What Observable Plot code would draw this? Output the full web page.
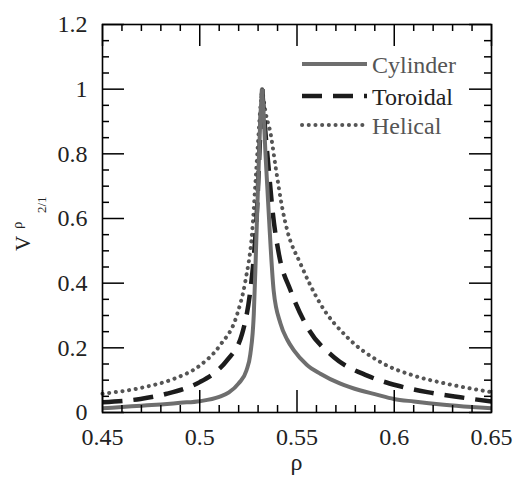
<!DOCTYPE html>
<html>
<head>
<meta charset="utf-8">
<script src="https://cdn.jsdelivr.net/npm/d3@7"></script>
<script src="https://cdn.jsdelivr.net/npm/@observablehq/plot@0.6"></script>
<style>
  html, body { margin: 0; padding: 0; background: #fff; }
  svg text { font-family: "Liberation Serif", "Times New Roman", Times, "Nimbus Roman", "Nimbus Roman No9 L", Tinos, "Noto Serif", "DejaVu Serif", FreeSerif, serif; }
</style>
</head>
<body>
<div id="chart"></div>
<script>
// ---- data ----
const seriesNames = ["Cylinder", "Toroidal", "Helical"];

const rhoCylinder = [0.45, 0.46, 0.47, 0.48, 0.49, 0.50, 0.51, 0.515, 0.52, 0.524, 0.526, 0.5278, 0.5287, 0.5295, 0.5304, 0.5314, 0.5321,
                     0.5328, 0.5338, 0.5348, 0.5358, 0.538, 0.5415, 0.545, 0.5484, 0.555, 0.562, 0.572, 0.5827, 0.59, 0.5998, 0.61, 0.6255, 0.64, 0.65];
const vCylinder   = [0.013, 0.017, 0.021, 0.025, 0.030, 0.035, 0.048, 0.062, 0.090, 0.130, 0.180, 0.306, 0.460, 0.615, 0.780, 0.940, 1.000,
                     0.930, 0.800, 0.690, 0.580, 0.377, 0.275, 0.225, 0.192, 0.148, 0.120, 0.090, 0.068, 0.057, 0.042, 0.034, 0.024, 0.017, 0.013];

const rhoToroidal = [0.45, 0.4695, 0.483, 0.50, 0.507, 0.514, 0.5218, 0.526, 0.5278, 0.5295, 0.531, 0.5321,
                     0.5333, 0.5355, 0.5375, 0.5407, 0.5467, 0.5553, 0.569, 0.5861, 0.6015, 0.617, 0.634, 0.65];
const vToroidal   = [0.032, 0.042, 0.058, 0.094, 0.120, 0.161, 0.244, 0.377, 0.480, 0.635, 0.850, 1.000,
                     0.900, 0.750, 0.620, 0.490, 0.377, 0.264, 0.171, 0.114, 0.0835, 0.063, 0.047, 0.034];

const rhoHelical  = [0.45, 0.4712, 0.4866, 0.50, 0.5103, 0.5193, 0.5235, 0.527, 0.5287, 0.5298, 0.531, 0.5321,
                     0.5338, 0.5365, 0.539, 0.5425, 0.545, 0.5518, 0.562, 0.5758, 0.5929, 0.61, 0.6272, 0.65];
const vHelical    = [0.058, 0.078, 0.104, 0.145, 0.207, 0.305, 0.408, 0.563, 0.717, 0.820, 0.930, 1.000,
                     0.930, 0.860, 0.760, 0.630, 0.563, 0.460, 0.336, 0.233, 0.156, 0.114, 0.0886, 0.063];

const xTicks = [0.45, 0.5, 0.55, 0.6, 0.65];
const xTickLabels = ["0.45", "0.5", "0.55", "0.6", "0.65"];
const yTicks = [0, 0.2, 0.4, 0.6, 0.8, 1.0, 1.2];
const yTickLabels = ["0", "0.2", "0.4", "0.6", "0.8", "1", "1.2"];

// ---- table built from the arrays ----
function branchRows(name, rho, v) {
  const iPeak = d3.maxIndex(v);
  const rows = [];
  rho.forEach((r, i) => {
    if (i <= iPeak) rows.push({series: name, branch: name + "-L", rho: r, v: v[i]});
    if (i >= iPeak) rows.push({series: name, branch: name + "-R", rho: r, v: v[i]});
  });
  return rows;
}
const cylRows = branchRows("Cylinder", rhoCylinder, vCylinder);
const torRows = branchRows("Toroidal", rhoToroidal, vToroidal);
const helRows = branchRows("Helical", rhoHelical, vHelical);

// ---- layout ----
const W = 519, H = 481;
const mL = 102, mR = 28, mT = 24, mB = 69;
const iw = W - mL - mR, ih = H - mT - mB;
const majorLen = 22, minorLen = 7;
const xMinor = d3.range(46, 65).map(k => k / 100).filter(v => !xTicks.some(t => Math.abs(t - v) < 1e-9));
const yMinor = d3.range(1, 24).map(k => k * 0.05).filter(v => !yTicks.some(t => Math.abs(t - v) < 1e-9));

const styles = {
  Cylinder: {stroke: "#6e6e6e", strokeWidth: 4, strokeDasharray: null, strokeLinecap: "butt"},
  Toroidal: {stroke: "#1c1c1c", strokeWidth: 4.5, strokeDasharray: "20,11", strokeLinecap: "butt"},
  Helical:  {stroke: "#555555", strokeWidth: 4, strokeDasharray: "0.1,6.6", strokeLinecap: "round"}
};

const fmtX = d => xTickLabels[xTicks.findIndex(t => Math.abs(t - d) < 1e-9)];
const fmtY = d => yTickLabels[yTicks.findIndex(t => Math.abs(t - d) < 1e-9)];
const serif = "'Liberation Serif', 'Times New Roman', Times, serif";

const chart = Plot.plot({
  width: W, height: H,
  marginLeft: mL, marginRight: mR, marginTop: mT, marginBottom: mB,
  style: {fontSize: "24px", color: "#222", background: "#fff", overflow: "visible"},
  x: {domain: [0.45, 0.65]},
  y: {domain: [0, 1.2]},
  marks: [
    Plot.line(helRows, {x: "rho", y: "v", z: "branch", curve: "monotone-x", ...styles.Helical}),
    Plot.line(torRows, {x: "rho", y: "v", z: "branch", curve: "monotone-x", ...styles.Toroidal}),
    Plot.line(cylRows, {x: "rho", y: "v", z: "branch", curve: "monotone-x", ...styles.Cylinder}),
    // inward ticks on all four sides
    Plot.tickY(yTicks, {y: d => d, insetRight: iw - majorLen, stroke: "#000", strokeWidth: 1.5}),
    Plot.tickY(yTicks, {y: d => d, insetLeft: iw - majorLen, stroke: "#000", strokeWidth: 1.5}),
    Plot.tickY(yMinor, {y: d => d, insetRight: iw - minorLen, stroke: "#000", strokeWidth: 1.5}),
    Plot.tickY(yMinor, {y: d => d, insetLeft: iw - minorLen, stroke: "#000", strokeWidth: 1.5}),
    Plot.tickX(xTicks, {x: d => d, insetTop: ih - majorLen, stroke: "#000", strokeWidth: 1.5}),
    Plot.tickX(xTicks, {x: d => d, insetBottom: ih - majorLen, stroke: "#000", strokeWidth: 1.5}),
    Plot.tickX(xMinor, {x: d => d, insetTop: ih - minorLen, stroke: "#000", strokeWidth: 1.5}),
    Plot.tickX(xMinor, {x: d => d, insetBottom: ih - minorLen, stroke: "#000", strokeWidth: 1.5}),
    Plot.frame({stroke: "#000", strokeWidth: 1.6}),
    Plot.axisX(xTicks, {tickSize: 0, tickPadding: 15, tickFormat: fmtX, label: null, fill: "#222", fontSize: 24}),
    Plot.axisY(yTicks, {tickSize: 0, tickPadding: 15, tickFormat: fmtY, label: null, fill: "#222", fontSize: 24})
  ]
});

document.getElementById("chart").appendChild(chart);

// ---- axis titles and legend ----
const svg = d3.select(chart);

svg.append("text")
  .attr("x", mL + iw / 2).attr("y", H - 11)
  .attr("text-anchor", "middle")
  .attr("font-size", 24).attr("fill", "#222")
  .text("ρ");

const yl = svg.append("text")
  .attr("transform", `translate(29.5, ${mT + ih / 2 + 33}) rotate(-90)`)
  .attr("text-anchor", "start")
  .attr("fill", "#222");
yl.append("tspan").attr("x", 0).attr("y", 0).attr("font-size", 21).text("V");
yl.append("tspan").attr("x", 22).attr("y", -8).attr("font-size", 15).text("ρ");
yl.append("tspan").attr("x", 38).attr("y", 16).attr("font-size", 13).text("2/1");

const legendTextColors = {Cylinder: "#555", Toroidal: "#222", Helical: "#555"};
const legendY = [64, 96, 125];
seriesNames.forEach((name, i) => {
  const s = styles[name];
  svg.append("line")
    .attr("x1", 302).attr("x2", 367)
    .attr("y1", legendY[i]).attr("y2", legendY[i])
    .attr("stroke", s.stroke).attr("stroke-width", s.strokeWidth)
    .attr("stroke-dasharray", s.strokeDasharray)
    .attr("stroke-linecap", s.strokeLinecap);
  svg.append("text")
    .attr("x", 372).attr("y", legendY[i] + 8.5)
    .attr("text-anchor", "start")
    .attr("font-size", 24)
    .attr("fill", legendTextColors[name])
    .text(name);
});
</script>
</body>
</html>
